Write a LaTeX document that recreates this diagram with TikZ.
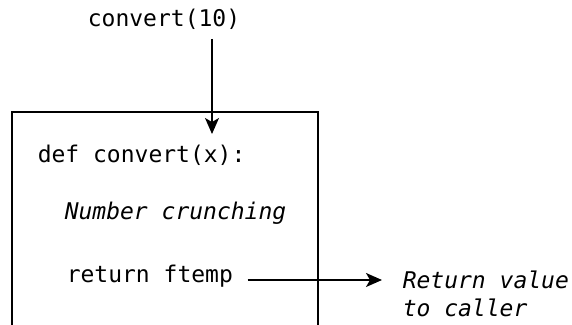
\documentclass[tikz,border=0pt]{standalone}
\usepackage{fontspec}
\setmonofont{DejaVu Sans Mono}
\usetikzlibrary{arrows.meta}

\begin{document}
\begin{tikzpicture}[x=0.5pt,y=-0.5pt,line width=0.75pt,
    code/.style={font=\ttfamily\fontsize{11.5}{14}\selectfont,inner sep=0pt,anchor=west},
    note/.style={font=\ttfamily\itshape\fontsize{11.5}{14}\selectfont,inner sep=0pt,anchor=west,align=left}]
  \useasboundingbox (0,0) rectangle (572,325);
  % function box
  \draw (12,326) -- (12,112) -- (318,112) -- (318,326);
  \node[code,anchor=center] (call) at (164,19) {convert(10)};
  \node[code] (def) at (37,155) {def convert(x):};
  \node[note] (crunch) at (64,213) {Number crunching};
  \node[code] (ret) at (66,276) {return ftemp};
  \node[note] (caller) at (402,294) {Return value\\to caller};
  \coordinate (entry) at (212,134);
  \coordinate (top) at (212,39);
  \coordinate (exit) at (382,280);
  \path[-{Stealth[length=8pt,width=7pt,inset=2pt]}]
    (top) edge (entry)
    (ret.east) ++(14,4) edge (exit);
\end{tikzpicture}
\end{document}
